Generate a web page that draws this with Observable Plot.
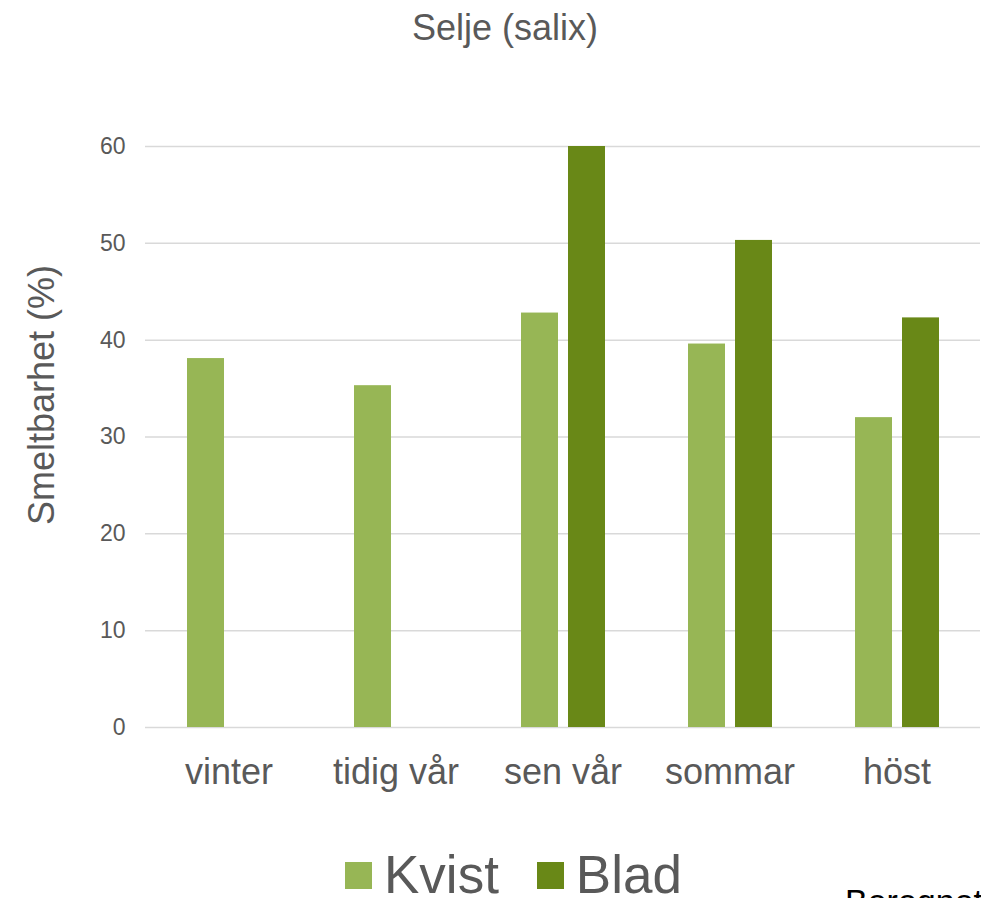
<!DOCTYPE html>
<html>
<head>
<meta charset="utf-8">
<script src="https://cdn.jsdelivr.net/npm/d3@7"></script>
<script src="https://cdn.jsdelivr.net/npm/@observablehq/plot@0.6"></script>
<style>
  html, body { margin: 0; padding: 0; background: #fff; overflow: hidden; width: 981px; height: 898px; }
  body { font-family: "Liberation Sans", Arial, sans-serif; position: relative; }
  #title { position: absolute; left: 0; width: 1010px; top: 6px; text-align: center; font-size: 36px; line-height: 44px; color: #595959; }
  #chart { position: absolute; left: 0; top: 60px; }
  #ylabel { position: absolute; left: 42px; top: 395px; transform: translate(-50%, -50%) rotate(-90deg); font-size: 36px; color: #595959; white-space: nowrap; }
  #legend { position: absolute; left: 345px; top: 843px; display: flex; align-items: center; font-size: 53px; line-height: 64px; color: #595959; }
  .item { display: flex; align-items: center; margin-right: 38px; }
  .sw { width: 27px; height: 27px; margin-right: 12px; }
  #note { position: absolute; left: 845px; top: 882px; font-size: 34px; color: #000; white-space: nowrap; }
</style>
</head>
<body>
<div id="title">Selje (salix)</div>
<div id="chart"></div>
<div id="ylabel">Smeltbarhet (%)</div>
<div id="legend"></div>
<div id="note">Beregnet</div>
<script>
const categories = ["vinter", "tidig vår", "sen vår", "sommar", "höst"];
const series = ["Kvist", "Blad"];
const kvist = [38.1, 35.3, 42.8, 39.6, 32.0];
const blad = [null, null, 60.0, 50.3, 42.3];
const yTicks = [0, 10, 20, 30, 40, 50, 60];
const colors = ["#97b655", "#698817"];

const rows = [];
categories.forEach((c, i) => {
  if (kvist[i] != null) rows.push({cat: c, s: "Kvist", v: kvist[i]});
  if (blad[i] != null) rows.push({cat: c, s: "Blad", v: blad[i]});
});

const plot = Plot.plot({
  width: 981,
  height: 760,
  marginTop: 86,
  marginBottom: 93,
  marginLeft: 145,
  marginRight: 1,
  style: {fontFamily: "Liberation Sans, Arial, sans-serif", background: "#fff"},
  fx: {domain: categories, padding: 0, label: null},
  x: {domain: series, paddingInner: 0.213, paddingOuter: 0.883, axis: null},
  y: {domain: [0, 60], ticks: yTicks, label: null, axis: null},
  color: {domain: series, range: colors},
  marks: [
    Plot.gridY(yTicks, {stroke: "#d9d9d9", strokeOpacity: 1, strokeWidth: 1.5}),
    Plot.barY(rows, {fx: "cat", x: "s", y: "v", fill: "s"}),
    Plot.axisY(yTicks, {tickSize: 0, tickPadding: 20, fontSize: 23, fill: "#595959", label: null, facetAnchor: "left"}),
    Plot.axisFx({anchor: "bottom", tickSize: 0, tickPadding: 31, fontSize: 36, fill: "#595959", label: null})
  ]
});
document.getElementById("chart").appendChild(plot);

const legend = document.getElementById("legend");
series.forEach((s, i) => {
  const item = document.createElement("div");
  item.className = "item";
  const sw = document.createElement("div");
  sw.className = "sw";
  sw.style.background = colors[i];
  const t = document.createElement("span");
  t.textContent = s;
  item.appendChild(sw);
  item.appendChild(t);
  legend.appendChild(item);
});
</script>
</body>
</html>
